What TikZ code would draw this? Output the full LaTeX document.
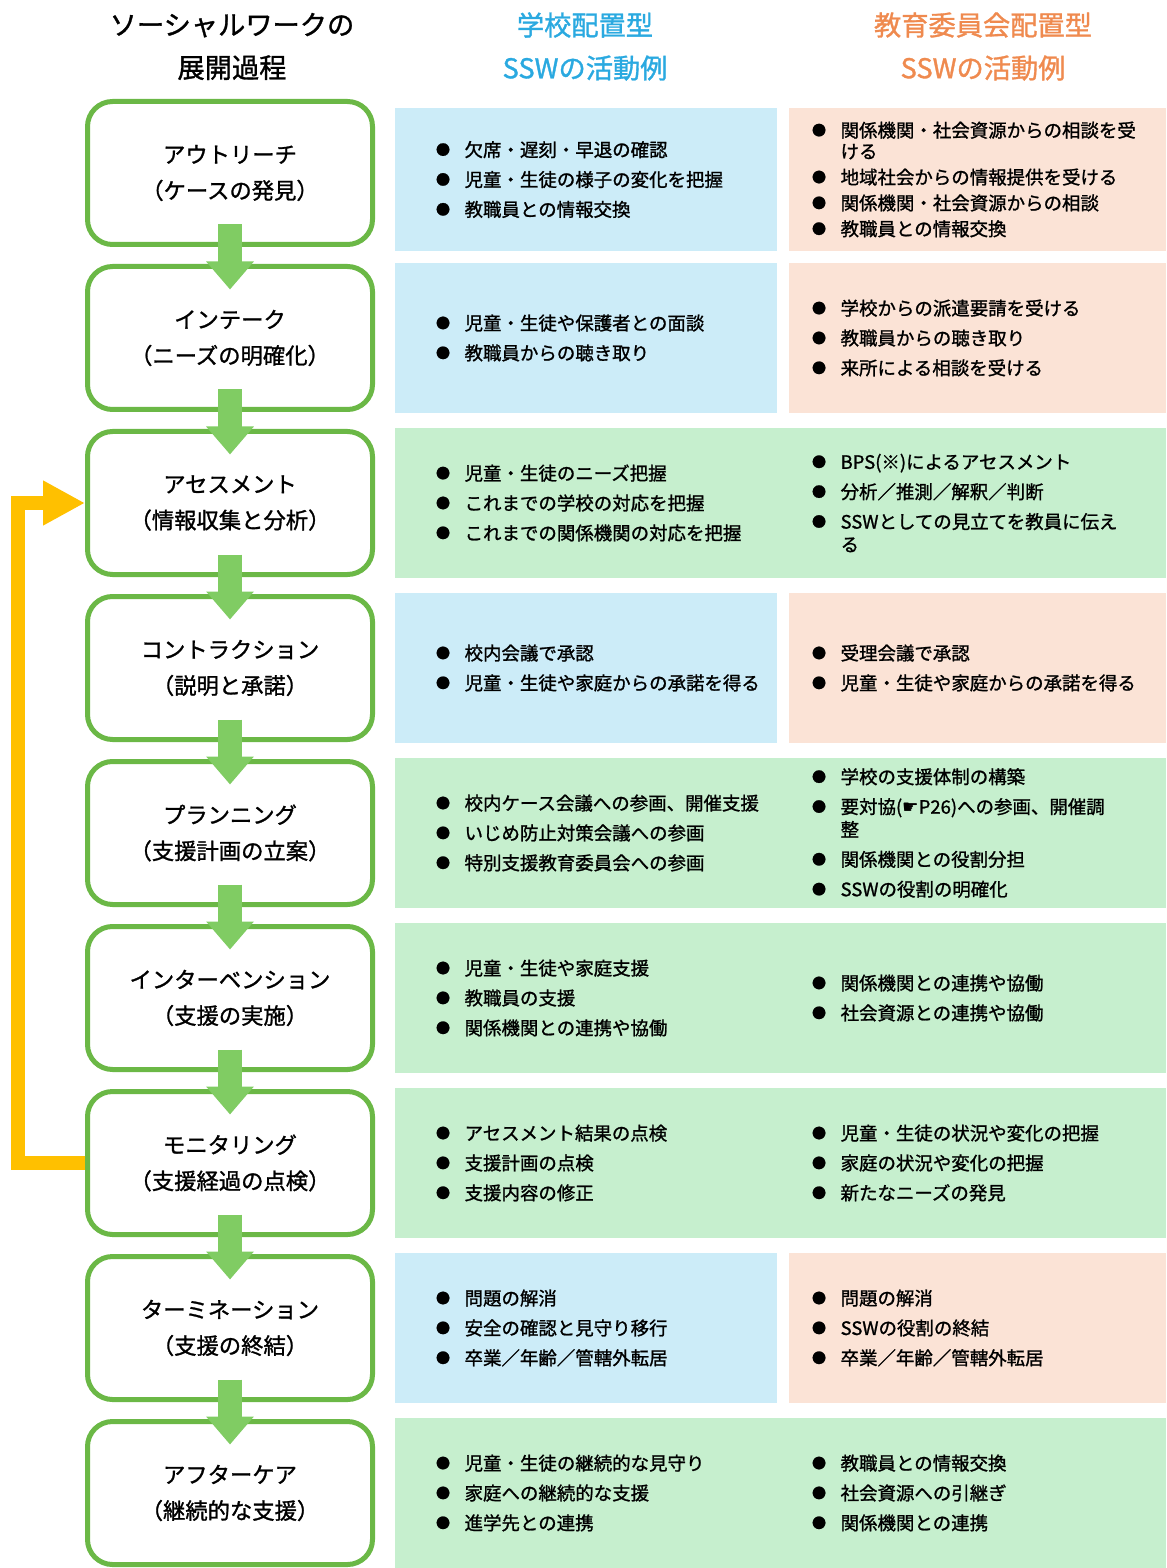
\documentclass[tikz,border=0pt]{standalone}
\usepackage{fontspec}
\setmainfont{Noto Sans CJK JP}[FakeBold=1.2]
\newfontfamily\symfont{DejaVu Sans}
\usepackage{tikz}
\usetikzlibrary{arrows.meta}
\usetikzlibrary{positioning}
\definecolor{boxgreen}{HTML}{6BB846}
\definecolor{arrowgreen}{HTML}{80CC63}
\definecolor{panelblue}{HTML}{CCECF8}
\definecolor{panelpeach}{HTML}{FBE3D6}
\definecolor{panelgreen}{HTML}{C6EFCE}
\definecolor{headblue}{HTML}{2AA9E0}
\definecolor{headorange}{HTML}{EF8A4F}
\definecolor{loopyellow}{HTML}{FFC000}
\tikzstyle{head} = [align=center, inner sep=0pt, font=\fontsize{15.5pt}{24.4pt}\selectfont]
\tikzstyle{stepbox} = [rectangle, draw=boxgreen, line width=0.1cm, fill=white,
    rounded corners=0.5cm, minimum width=5.7cm, minimum height=2.86cm,
    align=center, font=\fontsize{12.7pt}{20.5pt}\selectfont]
\tikzstyle{panel} = [rectangle, draw=none, inner sep=0pt, minimum height=3cm]
\tikzstyle{bluepanel} = [panel, fill=panelblue, minimum width=7.64cm]
\tikzstyle{peachpanel} = [panel, fill=panelpeach, minimum width=7.54cm]
\tikzstyle{greenpanel} = [panel, fill=panelgreen, minimum width=15.42cm]
\tikzstyle{itemtext} = [anchor=west, align=left, inner sep=0pt,
    font=\fontsize{10.5pt}{17pt}\selectfont]
\tikzstyle{tighttext} = [itemtext, font=\fontsize{10.5pt}{14.7pt}\selectfont]
\tikzstyle{flow} = [draw=arrowgreen, line width=0.48cm, -{Triangle[width=0.92cm,length=0.56cm]}]
\tikzstyle{back} = [draw=loopyellow, line width=0.28cm, -{Triangle[width=0.84cm,length=0.84cm]}]
\newcommand{\itm}{\makebox[1.55em][l]{\raisebox{1pt}{\fontsize{8pt}{8pt}\selectfont ●}}}

\begin{document}
\begin{tikzpicture}[node distance = 3.3cm]
  \useasboundingbox (0,0) rectangle (23.32,-31.36);
  % Headings
  \node [head] (h1) at (4.64,-0.93) {ソーシャルワークの\\展開過程};
  \node [head, text=headblue, right of=h1, node distance=7.06cm] (h2) {学校配置型\\SSWの活動例};
  \node [head, text=headorange, right of=h2, node distance=7.96cm] (h3) {教育委員会配置型\\SSWの活動例};

  % Place steps
  \node [stepbox] (b1) at (4.6,-3.46) {アウトリーチ\\（ケースの発見）};
  \node [stepbox, below of=b1] (b2) {インテーク\\（ニーズの明確化）};
  \node [stepbox, below of=b2] (b3) {アセスメント\\（情報収集と分析）};
  \node [stepbox, below of=b3] (b4) {コントラクション\\（説明と承諾）};
  \node [stepbox, below of=b4] (b5) {プランニング\\（支援計画の立案）};
  \node [stepbox, below of=b5] (b6) {インターベンション\\（支援の実施）};
  \node [stepbox, below of=b6] (b7) {モニタリング\\（支援経過の点検）};
  \node [stepbox, below of=b7] (b8) {ターミネーション\\（支援の終結）};
  \node [stepbox, below of=b8] (b9) {アフターケア\\（継続的な支援）};

  % Panels
  \node [bluepanel, right of=b1, node distance=7.12cm, yshift=-0.13cm, minimum height=2.86cm] (p1a) {};
  \node [peachpanel, right of=b1, node distance=14.95cm, yshift=-0.13cm, minimum height=2.86cm] (p1b) {};
  \node [bluepanel, right of=b2, node distance=7.12cm] (p2a) {};
  \node [peachpanel, right of=b2, node distance=14.95cm] (p2b) {};
  \node [greenpanel, right of=b3, node distance=11.01cm] (p3) {};
  \node [bluepanel, right of=b4, node distance=7.12cm] (p4a) {};
  \node [peachpanel, right of=b4, node distance=14.95cm] (p4b) {};
  \node [greenpanel, right of=b5, node distance=11.01cm] (p5) {};
  \node [greenpanel, right of=b6, node distance=11.01cm] (p6) {};
  \node [greenpanel, right of=b7, node distance=11.01cm] (p7) {};
  \node [bluepanel, right of=b8, node distance=7.12cm] (p8a) {};
  \node [peachpanel, right of=b8, node distance=14.95cm] (p8b) {};
  \node [greenpanel, right of=b9, node distance=11.01cm] (p9) {};

  % Panel texts
  \node [itemtext] (t1a) at ([xshift=0.82cm]p1a.west) {\itm 欠席・遅刻・早退の確認\\ \itm 児童・生徒の様子の変化を把握\\ \itm 教職員との情報交換};
  \node [tighttext] (t1b) at ([xshift=0.46cm]p1b.west) {\itm 関係機関・社会資源からの相談を受\\[-2.7pt] \hspace*{1.55em}ける\\ \itm 地域社会からの情報提供を受ける\\ \itm 関係機関・社会資源からの相談\\ \itm 教職員との情報交換};
  \node [itemtext] (t2a) at ([xshift=0.82cm]p2a.west) {\itm 児童・生徒や保護者との面談\\ \itm 教職員からの聴き取り};
  \node [itemtext] (t2b) at ([xshift=0.46cm]p2b.west) {\itm 学校からの派遣要請を受ける\\ \itm 教職員からの聴き取り\\ \itm 来所による相談を受ける};
  \node [itemtext] (t3a) at ([xshift=0.82cm]p3.west) {\itm 児童・生徒のニーズ把握\\ \itm これまでの学校の対応を把握\\ \itm これまでの関係機関の対応を把握};
  \node [itemtext] (t3b) at ([xshift=8.34cm]p3.west) {\itm BPS(※)によるアセスメント\\ \itm 分析／推測／解釈／判断\\ \itm SSWとしての見立てを教員に伝え\\[-4pt] \hspace*{1.55em}る};
  \node [itemtext] (t4a) at ([xshift=0.82cm]p4a.west) {\itm 校内会議で承認\\ \itm 児童・生徒や家庭からの承諾を得る};
  \node [itemtext] (t4b) at ([xshift=0.46cm]p4b.west) {\itm 受理会議で承認\\ \itm 児童・生徒や家庭からの承諾を得る};
  \node [itemtext] (t5a) at ([xshift=0.82cm]p5.west) {\itm 校内ケース会議への参画、開催支援\\ \itm いじめ防止対策会議への参画\\ \itm 特別支援教育委員会への参画};
  \node [itemtext] (t5b) at ([xshift=8.34cm]p5.west) {\itm 学校の支援体制の構築\\ \itm 要対協({\symfont ☛}P26)への参画、開催調\\[-4pt] \hspace*{1.55em}整\\ \itm 関係機関との役割分担\\ \itm SSWの役割の明確化};
  \node [itemtext] (t6a) at ([xshift=0.82cm]p6.west) {\itm 児童・生徒や家庭支援\\ \itm 教職員の支援\\ \itm 関係機関との連携や協働};
  \node [itemtext] (t6b) at ([xshift=8.34cm]p6.west) {\itm 関係機関との連携や協働\\ \itm 社会資源との連携や協働};
  \node [itemtext] (t7a) at ([xshift=0.82cm]p7.west) {\itm アセスメント結果の点検\\ \itm 支援計画の点検\\ \itm 支援内容の修正};
  \node [itemtext] (t7b) at ([xshift=8.34cm]p7.west) {\itm 児童・生徒の状況や変化の把握\\ \itm 家庭の状況や変化の把握\\ \itm 新たなニーズの発見};
  \node [itemtext] (t8a) at ([xshift=0.82cm]p8a.west) {\itm 問題の解消\\ \itm 安全の確認と見守り移行\\ \itm 卒業／年齢／管轄外転居};
  \node [itemtext] (t8b) at ([xshift=0.46cm]p8b.west) {\itm 問題の解消\\ \itm SSWの役割の終結\\ \itm 卒業／年齢／管轄外転居};
  \node [itemtext] (t9a) at ([xshift=0.82cm]p9.west) {\itm 児童・生徒の継続的な見守り\\ \itm 家庭への継続的な支援\\ \itm 進学先との連携};
  \node [itemtext] (t9b) at ([xshift=8.34cm]p9.west) {\itm 教職員との情報交換\\ \itm 社会資源への引継ぎ\\ \itm 関係機関との連携};

  % Arrows
  \path [flow] ([yshift=0.45cm]b1.south) -- ([yshift=-0.51cm]b2.north);
  \path [flow] ([yshift=0.45cm]b2.south) -- ([yshift=-0.51cm]b3.north);
  \path [flow] ([yshift=0.45cm]b3.south) -- ([yshift=-0.51cm]b4.north);
  \path [flow] ([yshift=0.45cm]b4.south) -- ([yshift=-0.51cm]b5.north);
  \path [flow] ([yshift=0.45cm]b5.south) -- ([yshift=-0.51cm]b6.north);
  \path [flow] ([yshift=0.45cm]b6.south) -- ([yshift=-0.51cm]b7.north);
  \path [flow] ([yshift=0.45cm]b7.south) -- ([yshift=-0.51cm]b8.north);
  \path [flow] ([yshift=0.45cm]b8.south) -- ([yshift=-0.51cm]b9.north);

  \path [back] (b7.west) -- ++(-1.34,0) |- (b3.west);

\end{tikzpicture}
\end{document}
